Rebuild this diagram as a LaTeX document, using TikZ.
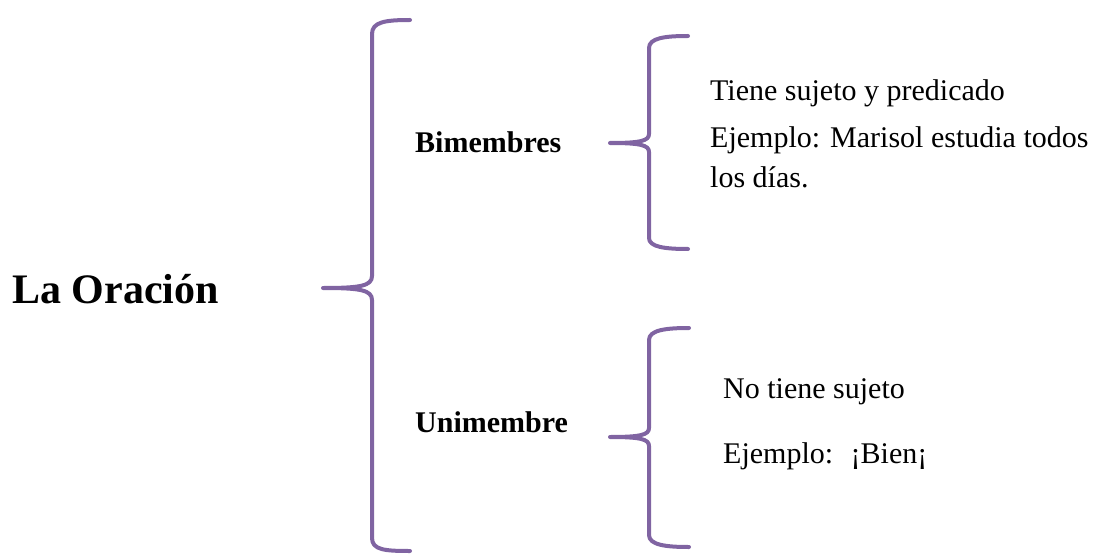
\documentclass[tikz,border=0pt]{standalone}
\usepackage{fontspec}
\setmainfont{Liberation Serif}

\definecolor{lila}{HTML}{8064A2}

\tikzset{
    llave/.style={draw=lila, line width=4pt, line cap=round, line join=round},
    titulo/.style={anchor=base west, inner sep=0pt, font=\fontsize{42}{50}\selectfont\bfseries},
    tipo/.style={anchor=base west, inner sep=0pt, font=\fontsize{30}{36}\selectfont\bfseries},
    texto/.style={anchor=base west, inner sep=0pt, font=\fontsize{30}{36}\selectfont}
}

\begin{document}
\begin{tikzpicture}[x=1pt, y=-1pt]
    \useasboundingbox (0,0) rectangle (1099,556);

    \node[titulo] (oracion) at (12,303) {La Oración};
    \node[tipo] (bime) at (415,153) {Bimembres};
    \node[tipo] (unime) at (415,432) {Unimembre};

    \node[texto] (sujpred) at (710,101) {Tiene sujeto y predicado};
    \node[texto] (ejbime) at (710,148) {Ejemplo: Marisol estudia todos};
    \node[texto] (ejbime2) at (710,187) {los días.};
    \node[texto] (nosuj) at (723,398) {No tiene sujeto};
    \node[texto] (ejunime) at (723,463) {Ejemplo:~ ¡Bien¡};

    % llave grande
    \draw[llave] (410,20) .. controls (385,20) and (372,22) .. (372,34)
        -- (372,276) .. controls (372,286) and (360,288) .. (323,288)
        .. controls (360,288) and (372,290) .. (372,300)
        -- (372,538) .. controls (372,550) and (385,551) .. (410,551);

    % llave de bimembres
    \draw[llave] (688,36) .. controls (665,36) and (649,38) .. (649,48)
        -- (649,134) .. controls (649,141) and (640,143) .. (610,143)
        .. controls (640,143) and (649,145) .. (649,152)
        -- (649,238) .. controls (649,247) and (665,249) .. (688,249);

    % llave de unimembre
    \draw[llave] (689,328) .. controls (666,328) and (649,330) .. (649,340)
        -- (649,428) .. controls (649,435) and (640,437) .. (610,437)
        .. controls (640,437) and (649,439) .. (649,446)
        -- (649,535) .. controls (649,545) and (666,547) .. (689,547);
\end{tikzpicture}
\end{document}
